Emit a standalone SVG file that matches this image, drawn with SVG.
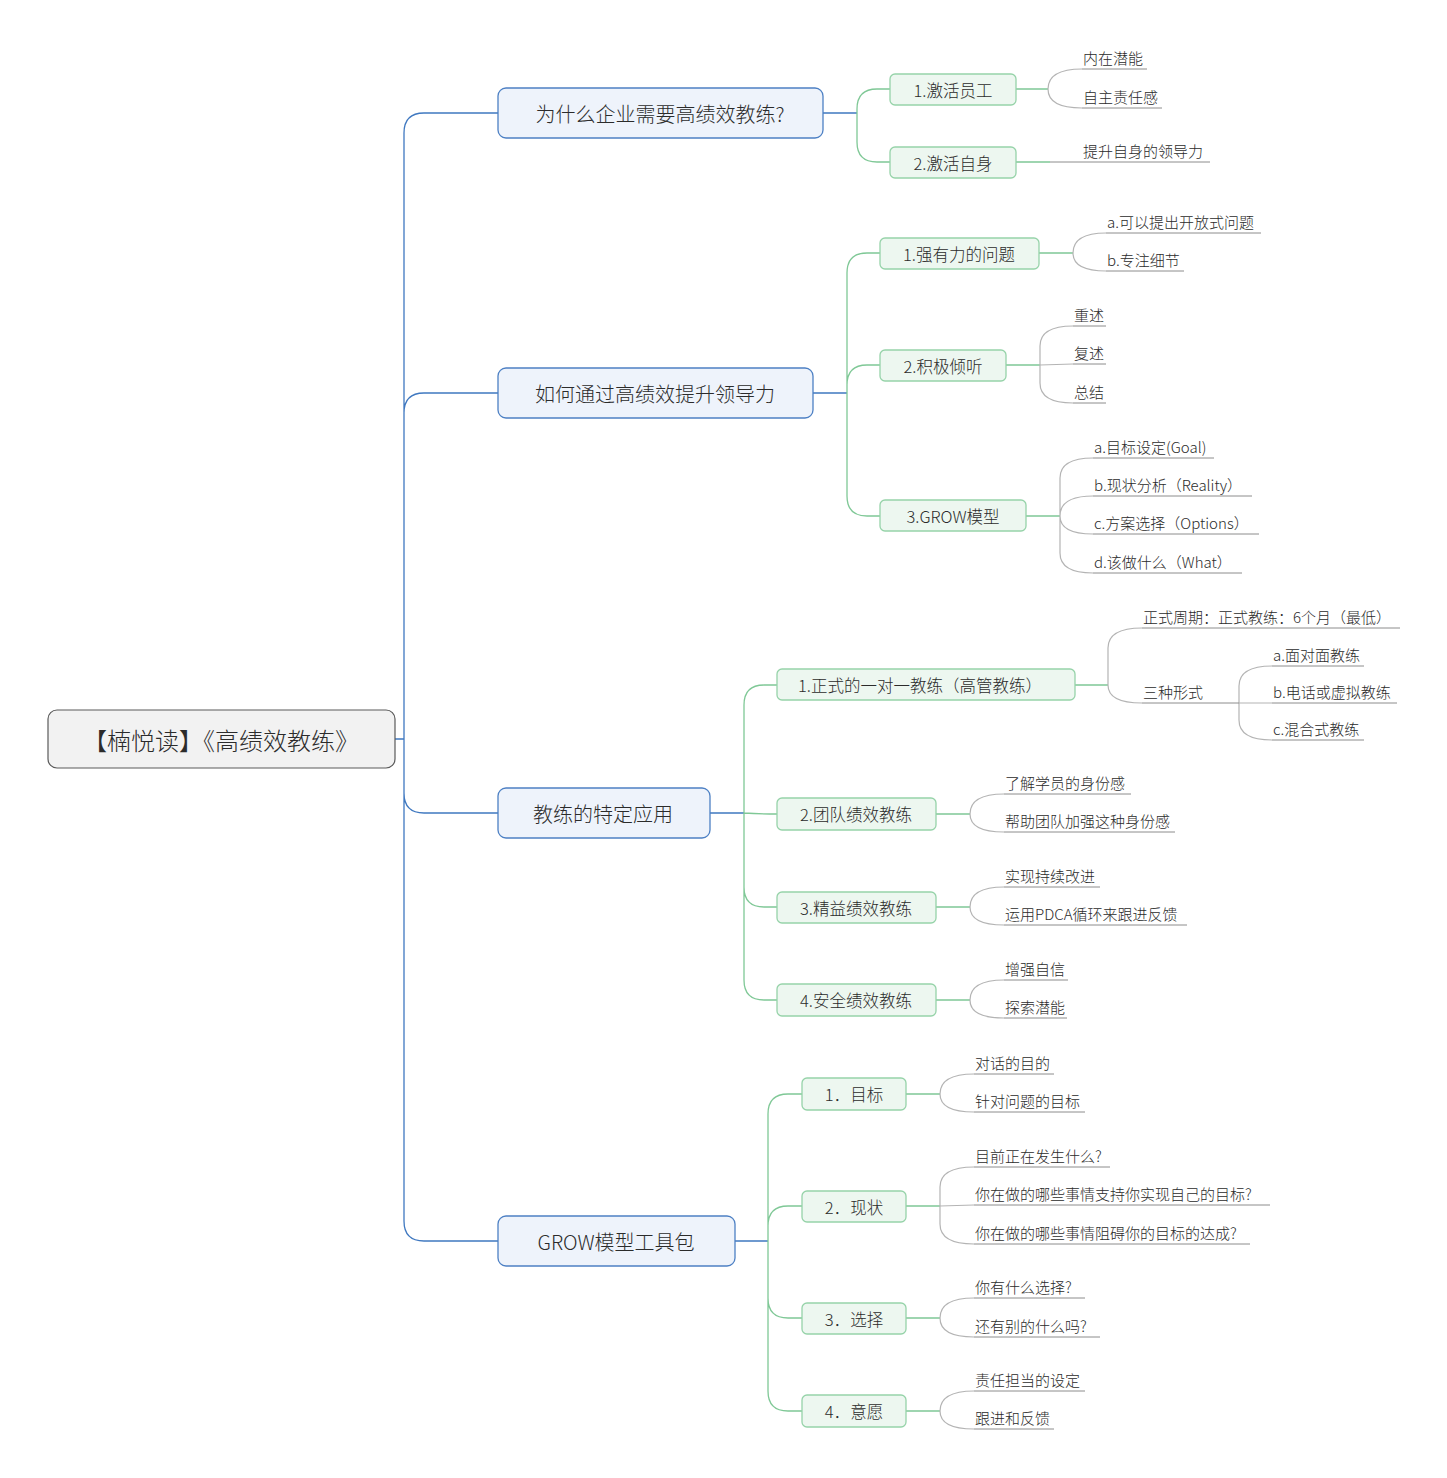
<svg xmlns="http://www.w3.org/2000/svg" width="1447" height="1478" viewBox="0 0 1447 1478">
<style>
text{font-family:"Noto Sans CJK SC","Microsoft YaHei",sans-serif;fill:#2b2b2b;font-weight:300}
.root rect{fill:#f2f2f2;stroke:#5a5a5a;stroke-width:1.2}
.root text{font-size:24px}
.l1 rect{fill:#eef3fb;stroke:#4d80c4;stroke-width:1.3}
.l1 text{font-size:20px}
.l2 rect{fill:#edf7f0;stroke:#96d3a9;stroke-width:1.3}
.l2 text{font-size:16.5px}
.nt{text-anchor:middle;dominant-baseline:central}
.leaf text{font-size:15px}
.blue{fill:none;stroke:#3f78c0;stroke-width:1.3}
.green{fill:none;stroke:#7fc896;stroke-width:1.3}
.br{fill:none;stroke:#b4b4b4;stroke-width:1.2}
.ul{fill:none;stroke:#8c8c8c;stroke-width:1}
</style>
<g id="connectors">
<path class="blue" d="M395,739 H404 M404,739 V133 Q404,113 424,113 H498 M404,739 V413 Q404,393 424,393 H498 M404,739 V793 Q404,813 424,813 H498 M404,739 V1221 Q404,1241 424,1241 H498"/>
<path class="blue" d="M823,113 H857 M813,393 H847 M710,813 H744 M735,1241 H768"/>
<path class="green" d="M857,113 V109 Q857,89 877,89 H890 M857,113 V142 Q857,162 877,162 H890"/>
<path class="green" d="M847,393 V273 Q847,253 867,253 H880 M847,393 V385 Q847,365 867,365 H880 M847,393 V496 Q847,516 867,516 H880"/>
<path class="green" d="M744,813 V705 Q744,685 764,685 H777 M744,813 Q760,814 777,814 M744,813 V887 Q744,907 764,907 H777 M744,813 V980 Q744,1000 764,1000 H777"/>
<path class="green" d="M768,1241 V1114 Q768,1094 788,1094 H802 M768,1241 V1226 Q768,1206 788,1206 H802 M768,1241 V1298 Q768,1318 788,1318 H802 M768,1241 V1391 Q768,1411 788,1411 H802"/>
<path class="green" d="M1016,89 H1048 M1016,162 H1050 M1039,253 H1073 M1006,365 H1040 M1026,516 H1060 M1075,685 H1108 M936,814 H970 M936,907 H970 M936,1000 H970 M906,1094 H940 M906,1206 H940 M906,1318 H940 M906,1411 H940"/>
<path class="br" d="M1048,89 Q1048,69 1082,69 M1048,89 Q1048,108 1082,108"/>
<path class="br" d="M1073,253 Q1073,233 1106,233 M1073,253 Q1073,271 1106,271"/>
<path class="br" d="M1040,365 V346 Q1040,326 1073,326 M1040,365 L1073,364 M1040,365 V383 Q1040,403 1073,403"/>
<path class="br" d="M1060,516 V478 Q1060,458 1093,458 M1060,516 Q1060,496 1093,496 M1060,516 Q1060,534 1093,534 M1060,516 V553 Q1060,573 1093,573"/>
<path class="br" d="M1108,685 V648 Q1108,628 1142,628 M1108,685 Q1108,703 1142,703"/>
<path class="br" d="M1239,703 V686 Q1239,666 1272,666 M1239,703 H1272 M1239,703 V720 Q1239,740 1272,740"/>
<path class="br" d="M970,814 Q970,794 1004,794 M970,814 Q970,832 1004,832 M970,907 Q970,887 1004,887 M970,907 Q970,925 1004,925 M970,1000 Q970,980 1004,980 M970,1000 Q970,1018 1004,1018"/>
<path class="br" d="M940,1094 Q940,1074 974,1074 M940,1094 Q940,1112 974,1112 M940,1206 V1187 Q940,1167 974,1167 M940,1206 L974,1205 M940,1206 V1224 Q940,1244 974,1244 M940,1318 Q940,1298 974,1298 M940,1318 Q940,1337 974,1337 M940,1411 Q940,1391 974,1391 M940,1411 Q940,1429 974,1429"/>
<path class="ul" d="M1082,69 H1147 M1082,108 H1162 M1050,162 H1210 M1106,233 H1261 M1106,271 H1184 M1073,326 H1106 M1073,364 H1106 M1073,403 H1106 M1093,458 H1214 M1093,496 H1252 M1093,534 H1259 M1093,573 H1242 M1142,628 H1400 M1142,703 H1239 M1272,666 H1364 M1272,703 H1397 M1272,740 H1364 M1004,794 H1131 M1004,832 H1175 M1004,887 H1100 M1004,925 H1187 M1004,980 H1068 M1004,1018 H1067 M974,1074 H1054 M974,1112 H1085 M974,1167 H1110 M974,1205 H1270 M974,1244 H1250 M974,1298 H1085 M974,1337 H1100 M974,1391 H1085 M974,1429 H1054"/>
</g>
<g id="root" class="root"><rect x="48" y="710" width="347" height="58" rx="9"/><text class="nt" x="221" y="739">【楠悦读】《高绩效教练》</text></g>
<g id="n1" class="l1"><rect x="498" y="88" width="325" height="50" rx="8"/><text class="nt" x="660" y="113">为什么企业需要高绩效教练?</text></g>
<g id="n2" class="l1"><rect x="498" y="368" width="315" height="50" rx="8"/><text class="nt" x="655" y="393">如何通过高绩效提升领导力</text></g>
<g id="n3" class="l1"><rect x="498" y="788" width="212" height="50" rx="8"/><text class="nt" x="603" y="813">教练的特定应用</text></g>
<g id="n4" class="l1"><rect x="498" y="1216" width="237" height="50" rx="8"/><text class="nt" x="616" y="1241">GROW模型工具包</text></g>
<g id="n1a" class="l2"><rect x="890" y="74" width="126" height="31" rx="5"/><text class="nt" x="953" y="89.5">1.激活员工</text></g>
<g id="n1b" class="l2"><rect x="890" y="147" width="126" height="31" rx="5"/><text class="nt" x="953" y="162.5">2.激活自身</text></g>
<g id="n2a" class="l2"><rect x="880" y="238" width="159" height="31" rx="5"/><text class="nt" x="959" y="253.5">1.强有力的问题</text></g>
<g id="n2b" class="l2"><rect x="880" y="350" width="126" height="31" rx="5"/><text class="nt" x="943" y="365.5">2.积极倾听</text></g>
<g id="n2c" class="l2"><rect x="880" y="500" width="146" height="31" rx="5"/><text class="nt" x="953" y="515.5">3.GROW模型</text></g>
<g id="n3a" class="l2"><rect x="777" y="669" width="298" height="31" rx="5"/><text class="nt" x="920" y="684.5">1.正式的一对一教练（高管教练）</text></g>
<g id="n3b" class="l2"><rect x="777" y="798" width="159" height="32" rx="5"/><text class="nt" x="856" y="814">2.团队绩效教练</text></g>
<g id="n3c" class="l2"><rect x="777" y="892" width="159" height="31" rx="5"/><text class="nt" x="856" y="907.5">3.精益绩效教练</text></g>
<g id="n3d" class="l2"><rect x="777" y="984" width="159" height="32" rx="5"/><text class="nt" x="856" y="1000">4.安全绩效教练</text></g>
<g id="n4a" class="l2"><rect x="802" y="1078" width="104" height="32" rx="5"/><text class="nt" x="854" y="1094">1．目标</text></g>
<g id="n4b" class="l2"><rect x="802" y="1191" width="104" height="31" rx="5"/><text class="nt" x="854" y="1206.5">2．现状</text></g>
<g id="n4c" class="l2"><rect x="802" y="1303" width="104" height="31" rx="5"/><text class="nt" x="854" y="1318.5">3．选择</text></g>
<g id="n4d" class="l2"><rect x="802" y="1395" width="104" height="32" rx="5"/><text class="nt" x="854" y="1411">4．意愿</text></g>
<g id="leaves" class="leaf">
<g id="l1"><text x="1083" y="64">内在潜能</text></g>
<g id="l2"><text x="1083" y="103">自主责任感</text></g>
<g id="l3"><text x="1083" y="157">提升自身的领导力</text></g>
<g id="l4"><text x="1107" y="228">a.可以提出开放式问题</text></g>
<g id="l5"><text x="1107" y="266">b.专注细节</text></g>
<g id="l6"><text x="1074" y="321">重述</text></g>
<g id="l7"><text x="1074" y="359">复述</text></g>
<g id="l8"><text x="1074" y="398">总结</text></g>
<g id="l9"><text x="1094" y="453">a.目标设定(Goal)</text></g>
<g id="l10"><text x="1094" y="491">b.现状分析（Reality）</text></g>
<g id="l11"><text x="1094" y="529">c.方案选择（Options）</text></g>
<g id="l12"><text x="1094" y="568">d.该做什么（What）</text></g>
<g id="l13"><text x="1143" y="623">正式周期：正式教练：6个月（最低）</text></g>
<g id="l14"><text x="1143" y="698">三种形式</text></g>
<g id="l15"><text x="1273" y="661">a.面对面教练</text></g>
<g id="l16"><text x="1273" y="698">b.电话或虚拟教练</text></g>
<g id="l17"><text x="1273" y="735">c.混合式教练</text></g>
<g id="l18"><text x="1005" y="789">了解学员的身份感</text></g>
<g id="l19"><text x="1005" y="827">帮助团队加强这种身份感</text></g>
<g id="l20"><text x="1005" y="882">实现持续改进</text></g>
<g id="l21"><text x="1005" y="920">运用PDCA循环来跟进反馈</text></g>
<g id="l22"><text x="1005" y="975">增强自信</text></g>
<g id="l23"><text x="1005" y="1013">探索潜能</text></g>
<g id="l24"><text x="975" y="1069">对话的目的</text></g>
<g id="l25"><text x="975" y="1107">针对问题的目标</text></g>
<g id="l26"><text x="975" y="1162">目前正在发生什么?</text></g>
<g id="l27"><text x="975" y="1200">你在做的哪些事情支持你实现自己的目标?</text></g>
<g id="l28"><text x="975" y="1239">你在做的哪些事情阻碍你的目标的达成?</text></g>
<g id="l29"><text x="975" y="1293">你有什么选择?</text></g>
<g id="l30"><text x="975" y="1332">还有别的什么吗?</text></g>
<g id="l31"><text x="975" y="1386">责任担当的设定</text></g>
<g id="l32"><text x="975" y="1424">跟进和反馈</text></g>
</g>
</svg>
